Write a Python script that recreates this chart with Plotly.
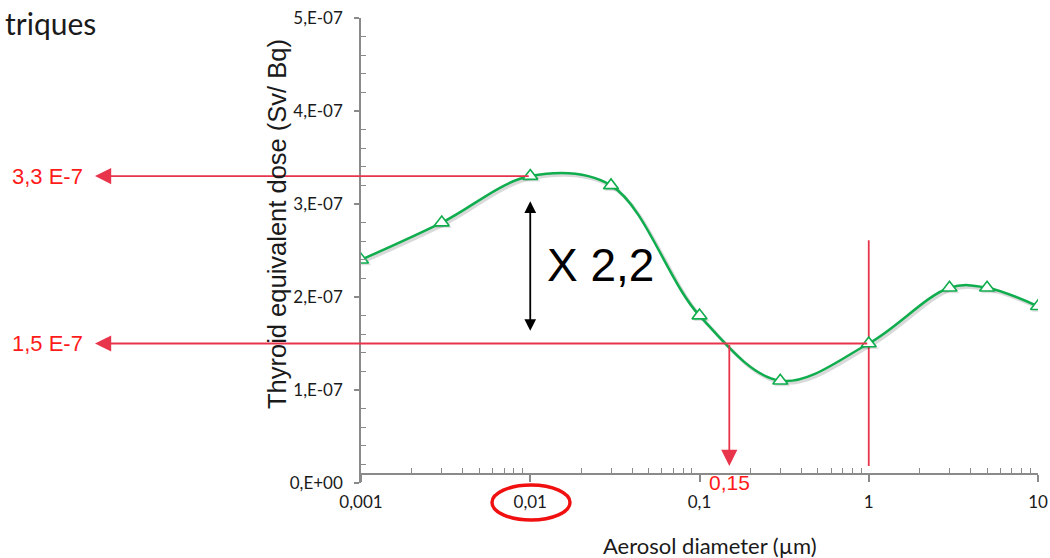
import math
import plotly.graph_objects as go

# Thyroid equivalent dose vs aerosol diameter
diameter_um = [0.001, 0.003, 0.01, 0.03, 0.1, 0.3, 1, 3, 5, 10]
dose_sv_bq = [2.4e-7, 2.8e-7, 3.3e-7, 3.2e-7, 1.8e-7, 1.1e-7, 1.5e-7, 2.1e-7, 2.1e-7, 1.9e-7]

x_tick_vals = [0.001, 0.01, 0.1, 1, 10]
x_tick_text = ["0,001", "0,01", "0,1", "1", "10"]
y_tick_vals = [0, 1e-7, 2e-7, 3e-7, 4e-7, 5e-7]
y_tick_text = ["0,E+00", "1,E-07", "2,E-07", "3,E-07", "4,E-07", "5,E-07"]

# highlighted readings
peak_dose = 3.3e-7
peak_diam = 0.01
ref_dose = 1.5e-7
ref_diam_low = 0.15
ref_diam_high = 1
ratio_label = "X 2,2"

# figure geometry
W, H = 1050, 558
ML, MR, MT, MB = 361, 12, 18, 75
PW, PH = W - ML - MR, H - MT - MB
X_RANGE = [-3, 1]
Y_RANGE = [0, 5e-7]

GREEN = "#10ad4e"
RED_LINE = "#e8354c"
RED_TEXT = "#ff1a1a"
AXIS_GRAY = "#8a8a8a"


def xpaper(v):
    return (math.log10(v) - X_RANGE[0]) / (X_RANGE[1] - X_RANGE[0])


def px_to_paper_x(px):
    return (px - ML) / PW


def px_to_paper_y(py):
    return (H - MB - py) / PH


def dose_per_px():
    return (Y_RANGE[1] - Y_RANGE[0]) / PH


minor_x = [k * 10 ** e for e in range(-3, 1) for k in range(2, 10)]
minor_y = [i * 0.2e-7 for i in range(26) if i % 5 != 0]

fig = go.Figure()

# vertical reference at 1 µm
head_dose = 17 * dose_per_px()
fig.add_trace(go.Scatter(
    x=[ref_diam_high, ref_diam_high], y=[head_dose, 2.61e-7], mode="lines",
    line=dict(color=RED_LINE, width=1.8), showlegend=False, hoverinfo="skip",
))

# soft drop shadow under the curve (overlay axes shifted by ~2 px)
sx = 2 * (X_RANGE[1] - X_RANGE[0]) / PW
sy = 2 * dose_per_px()
fig.add_trace(go.Scatter(
    x=diameter_um, y=dose_sv_bq, mode="lines+markers",
    line=dict(color="rgba(0,0,0,0.15)", width=3.5, shape="spline", smoothing=1),
    marker=dict(symbol="triangle-up", size=14, color="rgba(0,0,0,0.12)", line=dict(width=0)),
    xaxis="x2", yaxis="y2", hoverinfo="skip", showlegend=False,
))

# main curve on a top overlay with the same ranges as the visible axes
fig.add_trace(go.Scatter(
    x=diameter_um, y=dose_sv_bq, mode="lines+markers",
    line=dict(color=GREEN, width=2.5, shape="spline", smoothing=1),
    marker=dict(symbol="triangle-up", size=13, color="white", line=dict(color=GREEN, width=1.6)),
    xaxis="x3", yaxis="y3", showlegend=False,
))

annotations = []

# horizontal arrows pointing to the dose values on the left
head_px = 95
for diam, dose, label in [(peak_diam, peak_dose, "3,3 E-7"), (ref_diam_high, ref_dose, "1,5 E-7")]:
    tail_px = ML + PW * xpaper(diam)
    annotations.append(dict(
        xref="paper", yref="y", x=px_to_paper_x(head_px), y=dose,
        axref="pixel", ayref="y", ax=tail_px - head_px, ay=dose,
        text="", showarrow=True, arrowhead=2, arrowsize=1.8, arrowwidth=1.8,
        arrowcolor=RED_LINE, standoff=0, startstandoff=0,
    ))
    annotations.append(dict(
        xref="paper", yref="y", x=px_to_paper_x(47), y=dose,
        text=label, showarrow=False, xanchor="center", yanchor="middle",
        font=dict(family="Liberation Sans, Arial", size=22, color=RED_TEXT),
    ))

# downward arrow at 0.15 µm
annotations.append(dict(
    xref="x", yref="y", x=math.log10(ref_diam_low), y=head_dose,
    axref="pixel", ayref="y", ax=0, ay=ref_dose,
    text="", showarrow=True, arrowhead=2, arrowsize=1.8, arrowwidth=1.8,
    arrowcolor=RED_LINE, standoff=0, startstandoff=0,
))
annotations.append(dict(
    xref="x", yref="paper", x=math.log10(ref_diam_low), y=px_to_paper_y(482),
    text="0,15", showarrow=False, xanchor="center", yanchor="middle",
    font=dict(family="Liberation Sans, Arial", size=21, color=RED_TEXT),
))

# double-headed ratio arrow
annotations.append(dict(
    xref="x", yref="y", x=math.log10(peak_diam), y=3.03e-7,
    axref="pixel", ayref="y", ax=0, ay=1.62e-7,
    text="", showarrow=True, arrowhead=2, startarrowhead=2, arrowside="end+start",
    arrowsize=1.3, startarrowsize=1.3, arrowwidth=1.8, arrowcolor="black",
    standoff=0, startstandoff=0,
))
annotations.append(dict(
    xref="paper", yref="paper", x=px_to_paper_x(600), y=px_to_paper_y(265),
    text=ratio_label, showarrow=False, xanchor="center", yanchor="middle",
    font=dict(family="Liberation Sans, Arial", size=46, color="black"),
))

# axis titles and heading fragment
annotations.append(dict(
    xref="paper", yref="paper", x=px_to_paper_x(277), y=px_to_paper_y(224),
    text="Thyroid equivalent dose (Sv/ Bq)", textangle=-90, showarrow=False,
    xanchor="center", yanchor="middle",
    font=dict(family="Liberation Sans, Arial", size=25.5, color="#1a1a1a"),
))
annotations.append(dict(
    xref="paper", yref="paper", x=px_to_paper_x(710), y=px_to_paper_y(545),
    text="Aerosol diameter (µm)", showarrow=False, xanchor="center", yanchor="middle",
    font=dict(family="Lato", size=22, color="#1a1a1a"),
))
annotations.append(dict(
    xref="paper", yref="paper", x=px_to_paper_x(3), y=px_to_paper_y(3),
    text="triques", showarrow=False, xanchor="left", yanchor="top",
    font=dict(family="Lato", size=30, color="#1a1a1a"),
))

shapes = [
    # red ring around the 0,01 tick label
    dict(type="circle", xref="paper", yref="paper",
         x0=px_to_paper_x(492), x1=px_to_paper_x(570),
         y0=px_to_paper_y(520), y1=px_to_paper_y(485),
         line=dict(color="#f01010", width=3.5)),
]

fig.update_layout(
    width=W, height=H,
    margin=dict(l=ML, r=MR, t=MT, b=MB, pad=0, autoexpand=False),
    plot_bgcolor="white", paper_bgcolor="white",
    showlegend=False,
    annotations=annotations, shapes=shapes,
    xaxis=dict(
        type="log", range=X_RANGE, anchor="free", position=9 / PH, automargin=False,
        showline=True, linecolor=AXIS_GRAY, linewidth=1.5,
        tickmode="array", tickvals=x_tick_vals, ticktext=x_tick_text,
        ticks="outside", ticklen=7, tickcolor=AXIS_GRAY, tickwidth=1.5,
        ticklabelstandoff=6,
        minor=dict(tickmode="array", tickvals=minor_x, ticks="inside", ticklen=5,
                   tickcolor=AXIS_GRAY, tickwidth=1, showgrid=False),
        showgrid=False, zeroline=False,
        tickfont=dict(family="Lato", size=17, color="#1a1a1a"),
    ),
    yaxis=dict(
        range=Y_RANGE, automargin=False, showline=True, linecolor=AXIS_GRAY, linewidth=1.5,
        tickmode="array", tickvals=y_tick_vals, ticktext=y_tick_text,
        ticks="outside", ticklen=5, tickcolor=AXIS_GRAY, tickwidth=1.5,
        ticklabelstandoff=8,
        minor=dict(tickmode="array", tickvals=minor_y, ticks="inside", ticklen=5,
                   tickcolor=AXIS_GRAY, tickwidth=1, showgrid=False),
        showgrid=False, zeroline=False,
        tickfont=dict(family="Lato", size=17, color="#1a1a1a"),
    ),
    xaxis2=dict(type="log", range=[X_RANGE[0] - sx, X_RANGE[1] - sx], overlaying="x",
                visible=False, anchor="y2", automargin=False),
    yaxis2=dict(range=[Y_RANGE[0] + sy, Y_RANGE[1] + sy], overlaying="y",
                visible=False, anchor="x2", automargin=False),
    xaxis3=dict(type="log", range=X_RANGE, overlaying="x",
                visible=False, anchor="y3", automargin=False),
    yaxis3=dict(range=Y_RANGE, overlaying="y",
                visible=False, anchor="x3", automargin=False),
)

fig.write_html("out.html")
